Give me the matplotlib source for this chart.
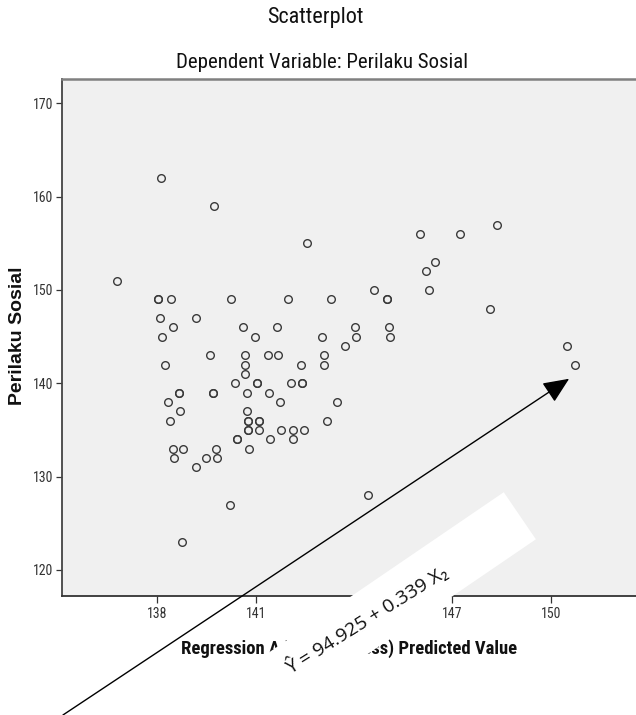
import matplotlib
matplotlib.use("Agg")
import matplotlib.pyplot as plt
from matplotlib.patches import Rectangle
from matplotlib.transforms import IdentityTransform

# adjusted (press) predicted value vs. observed Perilaku Sosial
predicted = [136.78, 138.10, 139.73, 142.55, 146.01, 147.23, 148.37, 146.47, 146.19,
             144.62, 146.29,
             138.03, 138.03, 138.41, 140.24, 141.97, 143.31, 144.99, 144.99,
             148.15,
             138.08, 139.19,
             138.49, 140.62, 141.66, 144.04, 145.07,
             138.13, 140.99, 143.03, 144.06, 145.10,
             143.72, 150.51,
             139.62, 140.66, 141.36, 141.69, 143.07,
             138.22, 140.67, 142.39, 143.08, 150.74,
             140.68,
             140.36, 141.05, 141.05, 142.07, 142.41, 142.41,
             138.65, 138.65, 139.69, 139.69, 140.72, 141.40,
             138.32, 141.74, 143.49,
             138.70, 140.73,
             138.38, 140.75, 140.75, 141.09, 141.09, 143.16,
             140.76, 140.76, 141.10, 141.78, 142.14, 142.48,
             140.44, 140.44, 141.45, 142.14,
             138.47, 138.79, 139.79, 140.79,
             138.50, 139.47, 139.81,
             139.17, 144.41, 140.21, 138.74]
perilaku = [151, 162, 159, 155, 156, 156, 157, 153, 152,
            150, 150,
            149, 149, 149, 149, 149, 149, 149, 149,
            148,
            147, 147,
            146, 146, 146, 146, 146,
            145, 145, 145, 145, 145,
            144, 144,
            143, 143, 143, 143, 143,
            142, 142, 142, 142, 142,
            141,
            140, 140, 140, 140, 140, 140,
            139, 139, 139, 139, 139, 139,
            138, 138, 138,
            137, 137,
            136, 136, 136, 136, 136, 136,
            135, 135, 135, 135, 135, 135,
            134, 134, 134, 134,
            133, 133, 133, 133,
            132, 132, 132,
            131, 128, 127, 123]

x_ticks = [138, 141, 144, 147, 150]
y_ticks = [120, 130, 140, 150, 160, 170]
equation = "Ŷ = 94.925 + 0.339 X₂"

narrow = ["Roboto Condensed", "Liberation Sans", "DejaVu Sans"]

W, H = 636, 715
fig = plt.figure(figsize=(W / 100, H / 100), dpi=100)
ax = fig.add_axes([62 / W, 1 - 596 / H, 1 - 62 / W, (596 - 79) / H])
ax.set_facecolor("#f0f0f0")

ax.plot(predicted, perilaku, linestyle="none", marker="o", markersize=5.5,
        markerfacecolor="none", markeredgecolor="#3a3a3a", markeredgewidth=1.0)

ax.set_xlim(135.09, 152.6)
ax.set_ylim(117.2, 172.6)
ax.set_xticks(x_ticks)
ax.set_yticks(y_ticks)
ax.tick_params(axis="y", direction="out", length=4, width=0.9, pad=2,
               colors="#333333", labelsize=10)
ax.tick_params(axis="x", direction="out", length=5, width=0.9, pad=3,
               colors="#333333", labelsize=10)
for lab in ax.get_xticklabels() + ax.get_yticklabels():
    lab.set_family(narrow)

ax.spines["right"].set_visible(False)
ax.spines["top"].set_color("#808080")
ax.spines["top"].set_linewidth(1.8)
ax.spines["left"].set_color("#444444")
ax.spines["left"].set_linewidth(1.3)
ax.spines["bottom"].set_color("#333333")
ax.spines["bottom"].set_linewidth(1.3)

ax.set_xlabel("Regression Adjusted (Press) Predicted Value", fontsize=13.4,
              fontweight="bold", family=narrow, labelpad=13, color="#111111")
fig.text(18 / W, 1 - 336 / H, "Perilaku Sosial", rotation=90, ha="center", va="center",
         fontsize=14, fontweight="bold", family=["Liberation Sans", "DejaVu Sans"],
         color="#111111")

fig.text(315 / W, 1 - 18 / H, "Scatterplot", ha="center", va="center",
         fontsize=16, family=narrow, color="#111111")
fig.text(322 / W, 1 - 62 / H, "Dependent Variable: Perilaku Sosial", ha="center",
         va="center", fontsize=15, family=narrow, color="#111111")

# arrow pointing at the high end of the cloud
ax.annotate("", xy=(150.56, 140.48), xycoords="data",
            xytext=(0.099, 0.0), textcoords="figure fraction",
            arrowprops=dict(arrowstyle="-|>,head_length=0.8,head_width=0.35",
                            mutation_scale=20, lw=1.0, color="black",
                            shrinkA=0, shrinkB=0),
            annotation_clip=False, zorder=10)

# white rotated text box with the regression equation
cx, cy = 367, H - 620
box = Rectangle((cx - 185, cy - 28.5), 370, 57, angle=34.3, rotation_point="center",
                facecolor="white", edgecolor="none", transform=IdentityTransform(),
                zorder=5)
fig.patches.append(box)
fig.text(cx / W, cy / H, equation, ha="center", va="center", rotation=32,
         rotation_mode="anchor", fontsize=14, family=["Open Sans", "DejaVu Sans"],
         color="#111111", zorder=6)

fig.savefig("out.png", dpi=100)
